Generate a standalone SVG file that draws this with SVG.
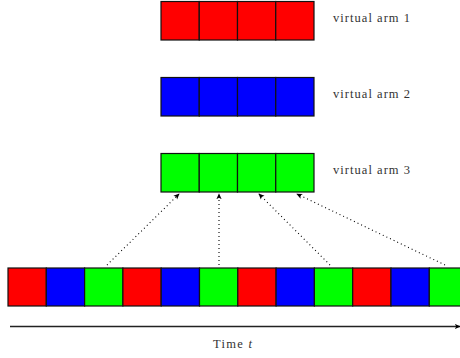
<svg xmlns="http://www.w3.org/2000/svg" width="460" height="358" viewBox="0 0 460 358">
<defs>
<style>
.r{fill:#ff0000}.b{fill:#0000ff}.g{fill:#00ff00}
rect{stroke:#111;stroke-width:1.2}
.lbl{font-family:"Liberation Serif","DejaVu Serif",serif;font-size:12.5px;fill:#333}
.dot{stroke:#000;stroke-width:1.1;stroke-dasharray:1 3;fill:none;marker-end:url(#ah)}
</style>
<marker id="ah" viewBox="0 0 8 8" refX="7" refY="4" markerWidth="6" markerHeight="6" markerUnits="userSpaceOnUse" orient="auto">
<path d="M0,0.5 L8,4 L0,7.5 L2,4 Z" fill="#000"/>
</marker>
<marker id="ah2" viewBox="0 0 8 8" refX="7" refY="4" markerWidth="6" markerHeight="6" markerUnits="userSpaceOnUse" orient="auto">
<path d="M0,0.5 L8,4 L0,7.5 L2,4 Z" fill="#000"/>
</marker>
</defs>
<g id="arm1">
<rect class="r" x="161" y="1.5" width="38.25" height="38.5"/>
<rect class="r" x="199.25" y="1.5" width="38.25" height="38.5"/>
<rect class="r" x="237.5" y="1.5" width="38.25" height="38.5"/>
<rect class="r" x="275.75" y="1.5" width="38.25" height="38.5"/>
<text class="lbl" x="333" y="22" textLength="77">virtual arm 1</text>
</g>
<g id="arm2">
<rect class="b" x="161" y="77.5" width="38.25" height="38.5"/>
<rect class="b" x="199.25" y="77.5" width="38.25" height="38.5"/>
<rect class="b" x="237.5" y="77.5" width="38.25" height="38.5"/>
<rect class="b" x="275.75" y="77.5" width="38.25" height="38.5"/>
<text class="lbl" x="333" y="98" textLength="77">virtual arm 2</text>
</g>
<g id="arm3">
<rect class="g" x="161" y="153.5" width="38.25" height="38.5"/>
<rect class="g" x="199.25" y="153.5" width="38.25" height="38.5"/>
<rect class="g" x="237.5" y="153.5" width="38.25" height="38.5"/>
<rect class="g" x="275.75" y="153.5" width="38.25" height="38.5"/>
<text class="lbl" x="333" y="174" textLength="77">virtual arm 3</text>
</g>
<g id="timeline">
<rect class="r" x="8" y="268" width="38.3" height="38"/>
<rect class="b" x="46.3" y="268" width="38.3" height="38"/>
<rect class="g" x="84.6" y="268" width="38.3" height="38"/>
<rect class="r" x="122.9" y="268" width="38.3" height="38"/>
<rect class="b" x="161.2" y="268" width="38.3" height="38"/>
<rect class="g" x="199.5" y="268" width="38.3" height="38"/>
<rect class="r" x="237.8" y="268" width="38.3" height="38"/>
<rect class="b" x="276.1" y="268" width="38.3" height="38"/>
<rect class="g" x="314.4" y="268" width="38.3" height="38"/>
<rect class="r" x="352.7" y="268" width="38.3" height="38"/>
<rect class="b" x="391" y="268" width="38.3" height="38"/>
<rect class="g" x="429.3" y="268" width="38.3" height="38"/>
</g>
<g id="connectors">
<path class="dot" d="M107,265 L179,194"/>
<path class="dot" d="M219,265 L219,194"/>
<path class="dot" d="M330,265 L259,194"/>
<path class="dot" d="M445,265 L297,194"/>
<path d="M10,326.5 L460,326.5" stroke="#222" stroke-width="1.3" fill="none" marker-end="url(#ah2)"/>
</g>
<g id="axis-label">
<text class="lbl" x="213" y="348" textLength="39">Time <tspan font-style="italic">t</tspan></text>
</g>
</svg>
